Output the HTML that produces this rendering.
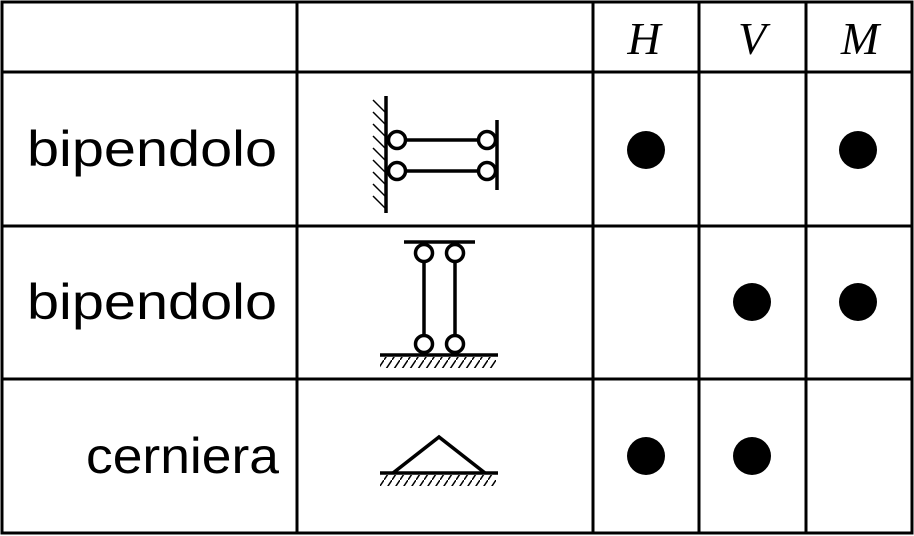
<!DOCTYPE html>
<html><head><meta charset="utf-8"><style>
html,body{margin:0;padding:0;background:#fff;}
svg{display:block;}
.lbl{font-family:"Liberation Sans",sans-serif;}
.hdr{font-family:"Liberation Serif",serif;font-style:italic;}
</style></head><body>
<svg width="914" height="536" viewBox="0 0 914 536">
<defs>
<pattern id="hh" width="8" height="12" patternUnits="userSpaceOnUse">
<line x1="0" y1="12" x2="8" y2="0" stroke="#000" stroke-width="1.5"/>
</pattern>
</defs>
<g stroke="#000" stroke-width="3" fill="none">
<rect x="2" y="2" width="910" height="531"/>
<line x1="2" y1="72" x2="912" y2="72"/>
<line x1="2" y1="226" x2="912" y2="226"/>
<line x1="2" y1="379" x2="912" y2="379"/>
<line x1="297" y1="2" x2="297" y2="533"/>
<line x1="593" y1="2" x2="593" y2="533"/>
<line x1="699" y1="2" x2="699" y2="533"/>
<line x1="806" y1="2" x2="806" y2="533"/>
</g>
<g class="hdr" font-size="46" text-anchor="middle">
<text class="hdr" x="644" y="54">H</text>
<text class="hdr" x="752" y="54">V</text>
<text class="hdr" x="860" y="54">M</text>
</g>
<g font-size="50">
<text class="lbl" x="27" y="166" textLength="250" lengthAdjust="spacingAndGlyphs">bipendolo</text>
<text class="lbl" x="27" y="319" textLength="250" lengthAdjust="spacingAndGlyphs">bipendolo</text>
<text class="lbl" x="86" y="473" textLength="193" lengthAdjust="spacingAndGlyphs">cerniera</text>
</g>
<g stroke="#000" fill="#fff" stroke-width="3.5">
<line x1="386" y1="96" x2="386" y2="213"/>
<g stroke-width="1.5"><line x1="373" y1="100" x2="386" y2="113"/><line x1="373" y1="112" x2="386" y2="125"/><line x1="373" y1="124" x2="386" y2="137"/><line x1="373" y1="136" x2="386" y2="149"/><line x1="373" y1="148" x2="386" y2="161"/><line x1="373" y1="160" x2="386" y2="173"/><line x1="373" y1="172" x2="386" y2="185"/><line x1="373" y1="184" x2="386" y2="197"/><line x1="373" y1="196" x2="386" y2="209"/></g>
<line x1="497" y1="120" x2="497" y2="190"/>
<line x1="397" y1="140" x2="487" y2="140"/><line x1="397" y1="171" x2="487" y2="171"/>
<circle cx="397" cy="140" r="8.5"/><circle cx="487" cy="140" r="8.5"/>
<circle cx="397" cy="171" r="8.5"/><circle cx="487" cy="171" r="8.5"/>
</g>
<g stroke="#000" fill="#fff" stroke-width="3.5">
<line x1="404" y1="242" x2="475" y2="242"/>
<line x1="424" y1="253" x2="424" y2="344"/><line x1="455" y1="253" x2="455" y2="344"/>
<circle cx="424" cy="253" r="8.5"/><circle cx="455" cy="253" r="8.5"/>
<circle cx="424" cy="344" r="8.5"/><circle cx="455" cy="344" r="8.5"/>
<line x1="380" y1="355" x2="498" y2="355"/>
<rect x="380" y="357" width="116" height="11" fill="url(#hh)" stroke="none"/>
</g>
<g stroke="#000" fill="none" stroke-width="3.5">
<polyline points="393,473 439,437 485,473"/>
<line x1="380" y1="473" x2="498" y2="473"/>
<rect x="380" y="475" width="116" height="11" fill="url(#hh)" stroke="none"/>
</g>
<g fill="#000">
<circle cx="646" cy="150" r="19"/>
<circle cx="858" cy="150" r="19"/>
<circle cx="752" cy="302" r="19"/>
<circle cx="858" cy="302" r="19"/>
<circle cx="646" cy="456" r="19"/>
<circle cx="752" cy="456" r="19"/>
</g>
</svg>
</body></html>
